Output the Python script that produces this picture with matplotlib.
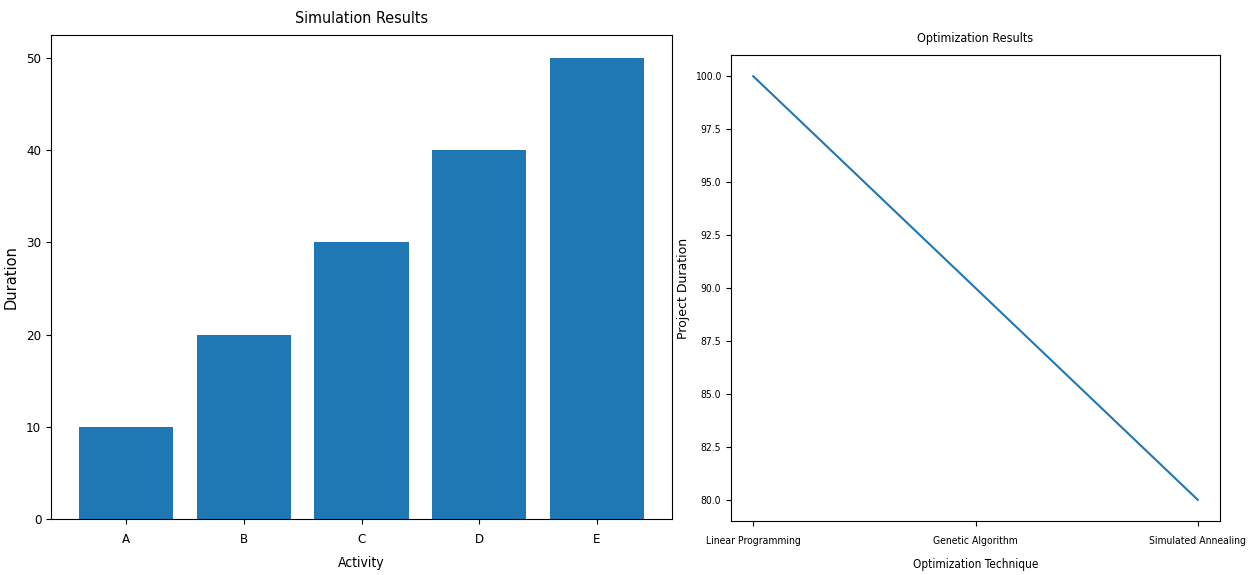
import matplotlib
matplotlib.use("Agg")
import matplotlib.pyplot as plt

# bar chart data
activities = ["A", "B", "C", "D", "E"]
durations = [10, 20, 30, 40, 50]

# line chart data
techniques = ["Linear Programming", "Genetic Algorithm", "Simulated Annealing"]
project_durations = [100, 90, 80]

# the original is squeezed sideways, so use the condensed face for horizontal text
plt.rcParams['font.family'] = ['DejaVu Sans']
plt.rcParams['font.stretch'] = 'condensed'

fig = plt.figure(figsize=(12.5, 5.75), dpi=100)

# Simulation Results
ax1 = fig.add_axes([0.0408, 0.0974, 0.4968, 0.8417])
ax1.bar(activities, durations, color='#1f77b4')
ax1.set_ylim(0, 52.5)
ax1.set_title("Simulation Results", fontsize=11.5, pad=9)
ax1.set_xlabel("Activity", fontsize=10, labelpad=7)
ax1.set_ylabel("Duration", fontsize=10.5, stretch='normal')
ax1.yaxis.set_label_coords(-0.052, 0.5)
ax1.tick_params(labelsize=9.5)
ax1.tick_params(axis='x', pad=6.5)

# Optimization Results
ax2 = fig.add_axes([0.5848, 0.0939, 0.3912, 0.8104])
ax2.plot(techniques, project_durations, color='#1f77b4', linewidth=1.5)
ax2.set_title("Optimization Results", fontsize=9, pad=9.5)
ax2.set_xlabel("Optimization Technique", fontsize=8.5, labelpad=9)
ax2.set_ylabel("Project Duration", fontsize=9, stretch='normal')
ax2.yaxis.set_label_coords(-0.084, 0.5)
ax2.tick_params(labelsize=7.5)
ax2.tick_params(axis='x', pad=7)

fig.savefig("out.png", dpi=100)
